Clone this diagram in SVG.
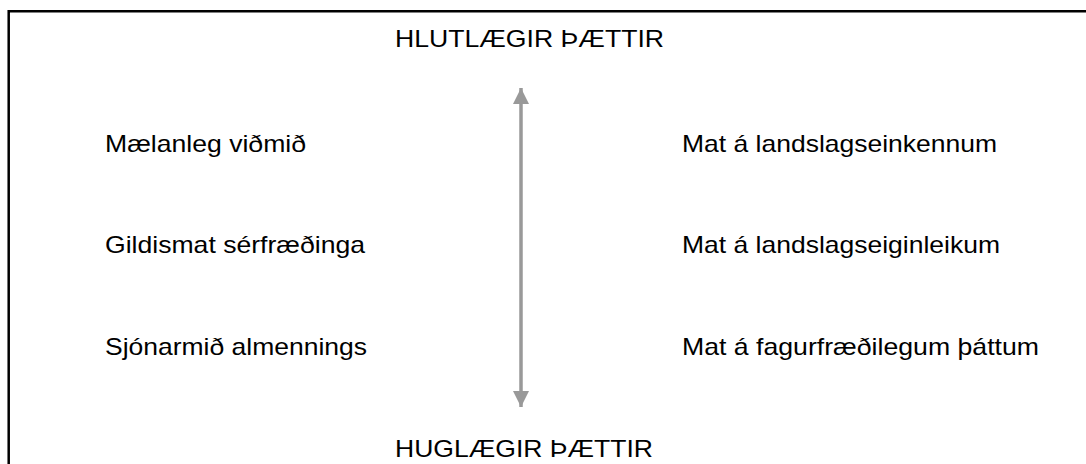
<svg xmlns="http://www.w3.org/2000/svg" width="1086" height="464" viewBox="0 0 1086 464">
  <style>
    .t { font-family: "Liberation Sans", Arial, sans-serif; font-size: 24px; fill: #000; }
    .frame { stroke: #000; stroke-width: 2.5; fill: none; }
  </style>
  <defs>
    <marker id="ah" markerWidth="16" markerHeight="16" viewBox="0 0 16 16" refX="16" refY="8" orient="auto-start-reverse" markerUnits="userSpaceOnUse">
      <path d="M0,0 L16,8 L0,16 Z" fill="#999999"/>
    </marker>
  </defs>
  <rect width="1086" height="464" fill="#fff"/>
  <g id="frame">
    <path class="frame" d="M8.7,464 V11.3 H1086"/>
  </g>
  <g id="connectors">
    <line x1="521" y1="88" x2="521" y2="407" stroke="#999999" stroke-width="3.5" marker-start="url(#ah)" marker-end="url(#ah)"/>
  </g>
  <g id="top"><text class="t" x="395" y="47" textLength="269" lengthAdjust="spacingAndGlyphs">HLUTLÆGIR ÞÆTTIR</text></g>
  <g id="bottom"><text class="t" x="395" y="457" textLength="258" lengthAdjust="spacingAndGlyphs">HUGLÆGIR ÞÆTTIR</text></g>
  <g id="l1"><text class="t" x="105" y="152" textLength="201" lengthAdjust="spacingAndGlyphs">Mælanleg viðmið</text></g>
  <g id="l2"><text class="t" x="105" y="253" textLength="260" lengthAdjust="spacingAndGlyphs">Gildismat sérfræðinga</text></g>
  <g id="l3"><text class="t" x="105" y="355" textLength="262" lengthAdjust="spacingAndGlyphs">Sjónarmið almennings</text></g>
  <g id="r1"><text class="t" x="682" y="152" textLength="315" lengthAdjust="spacingAndGlyphs">Mat á landslagseinkennum</text></g>
  <g id="r2"><text class="t" x="682" y="253" textLength="318" lengthAdjust="spacingAndGlyphs">Mat á landslagseiginleikum</text></g>
  <g id="r3"><text class="t" x="682" y="355" textLength="357" lengthAdjust="spacingAndGlyphs">Mat á fagurfræðilegum þáttum</text></g>
</svg>
